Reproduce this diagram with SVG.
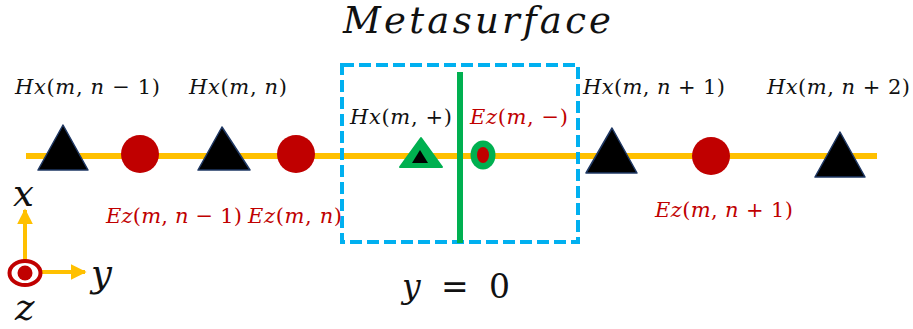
<svg xmlns="http://www.w3.org/2000/svg" width="913" height="329" viewBox="0 0 913 329">
<defs>
<style>
.lbl{font-family:"DejaVu Serif","Liberation Serif",serif;font-size:21px;}
.blk{fill:#111;}
.red{fill:#C00000;}
.i{font-style:italic;}
.tri{fill:#000;stroke:#1F3864;stroke-width:1.5;stroke-linejoin:round;}
.dot{fill:#C00000;}
.axis{stroke:#FFC000;stroke-width:4;fill:none;}
</style>
<marker id="ah" viewBox="0 0 10 10" refX="9" refY="5" markerWidth="4" markerHeight="4" orient="auto" markerUnits="strokeWidth">
<path d="M0,0 L10,5 L0,10 z" fill="#FFC000"/>
</marker>
</defs>
<rect width="913" height="329" fill="#fff"/>

<g id="connectors">
<line x1="26" y1="156" x2="877" y2="156" stroke="#FFC000" stroke-width="6"/>
<line class="axis" x1="25" y1="262" x2="25" y2="210" marker-end="url(#ah)"/>
<line class="axis" x1="40" y1="272" x2="85" y2="272" marker-end="url(#ah)"/>
</g>

<g id="title">
<text class="lbl blk i" x="343" y="33" textLength="268" lengthAdjust="spacing" style="font-size:37px">Metasurface</text>
</g>

<g id="metasurface-box">
<rect x="342" y="65" width="236" height="177" fill="none" stroke="#00B0F0" stroke-width="4" stroke-dasharray="12,5"/>
<line x1="460" y1="72" x2="460" y2="243" stroke="#00B050" stroke-width="6"/>
</g>

<g id="hx-n-1"><polygon class="tri" points="63,125 38,170 88,170"/></g>
<g id="ez-n-1"><circle class="dot" cx="140" cy="154" r="19"/></g>
<g id="hx-n"><polygon class="tri" points="222,127 198,170 250,170"/></g>
<g id="ez-n"><circle class="dot" cx="296" cy="154" r="19"/></g>
<g id="hx-plus">
<polygon points="421,138 400,167 442,167" fill="#00B050" stroke="#00B050" stroke-width="2" stroke-linejoin="round"/>
<polygon points="420,150 412,163 428,163" fill="#000"/>
</g>
<g id="ez-minus">
<ellipse cx="483" cy="155" rx="12.5" ry="14.5" fill="#00B050"/>
<ellipse cx="483" cy="155" rx="6" ry="8" fill="#C00000"/>
</g>
<g id="hx-n+1"><polygon class="tri" points="612,128 586,173 637,173"/></g>
<g id="ez-n+1"><circle class="dot" cx="711" cy="156" r="19"/></g>
<g id="hx-n+2"><polygon class="tri" points="840,132 815,177 865,177"/></g>

<g id="labels">
<text class="lbl blk" x="15" y="94" textLength="145" lengthAdjust="spacing"><tspan class="i">Hx</tspan>(<tspan class="i">m</tspan>, <tspan class="i">n</tspan> − 1)</text>
<text class="lbl blk" x="189" y="94" textLength="98" lengthAdjust="spacing"><tspan class="i">Hx</tspan>(<tspan class="i">m</tspan>, <tspan class="i">n</tspan>)</text>
<text class="lbl blk" x="350" y="124" textLength="102" lengthAdjust="spacing"><tspan class="i">Hx</tspan>(<tspan class="i">m</tspan>, +)</text>
<text class="lbl red" x="470" y="124" textLength="98" lengthAdjust="spacing"><tspan class="i">Ez</tspan>(<tspan class="i">m</tspan>, −)</text>
<text class="lbl blk" x="583" y="94" textLength="142" lengthAdjust="spacing"><tspan class="i">Hx</tspan>(<tspan class="i">m</tspan>, <tspan class="i">n</tspan> + 1)</text>
<text class="lbl blk" x="767" y="94" textLength="143" lengthAdjust="spacing"><tspan class="i">Hx</tspan>(<tspan class="i">m</tspan>, <tspan class="i">n</tspan> + 2)</text>
<text class="lbl red" x="106" y="223" textLength="136" lengthAdjust="spacing"><tspan class="i">Ez</tspan>(<tspan class="i">m</tspan>, <tspan class="i">n</tspan> − 1)</text>
<text class="lbl red" x="248" y="223" textLength="94" lengthAdjust="spacing"><tspan class="i">Ez</tspan>(<tspan class="i">m</tspan>, <tspan class="i">n</tspan>)</text>
<text class="lbl red" x="655" y="217" textLength="138" lengthAdjust="spacing"><tspan class="i">Ez</tspan>(<tspan class="i">m</tspan>, <tspan class="i">n</tspan> + 1)</text>
<text class="lbl blk" x="402" y="298" textLength="108" lengthAdjust="spacing" style="font-size:33px"><tspan class="i">y</tspan> = 0</text>
</g>

<g id="axes">
<ellipse cx="25" cy="273" rx="15.5" ry="12" fill="#fff" stroke="#C00000" stroke-width="4"/>
<circle cx="25" cy="273" r="7.5" fill="#C00000"/>
<text class="lbl blk i" x="13" y="206" style="font-size:37px">x</text>
<text class="lbl blk i" x="91" y="286" style="font-size:37px">y</text>
<text class="lbl blk i" x="15" y="320" style="font-size:37px">z</text>
</g>
</svg>
